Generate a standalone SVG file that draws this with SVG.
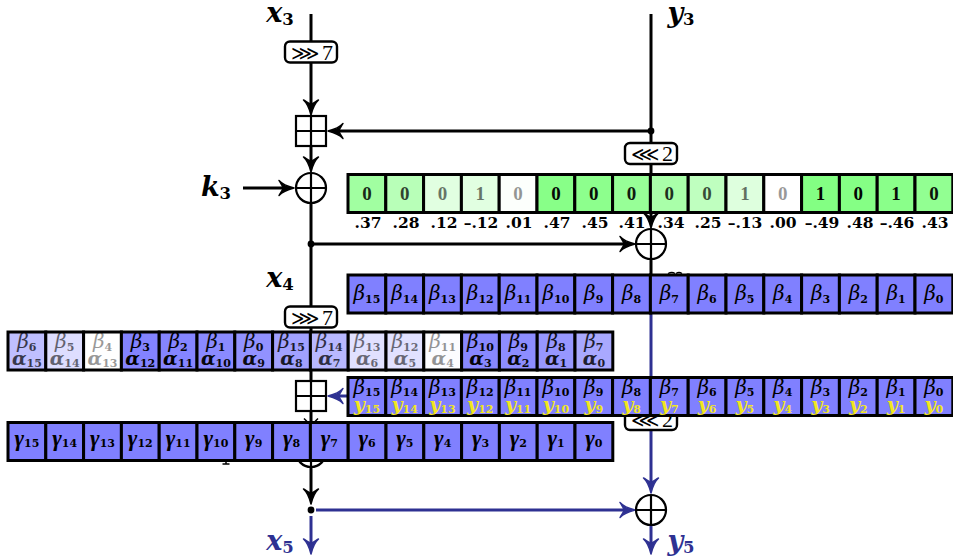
<svg xmlns="http://www.w3.org/2000/svg" width="953" height="556" viewBox="0 0 953 556">
<style>
text{font-family:"DejaVu Serif","Liberation Serif",serif;fill:#000;text-anchor:middle}
.c{stroke:#000;stroke-width:3;fill:#8080ff}
.k{fill:none;stroke:#000;stroke-width:3}
.u{fill:none;stroke:#2e3192;stroke-width:3}
.ka{marker-end:url(#ak)}
.ua{marker-end:url(#au)}
.op{fill:#fff;stroke:#000;stroke-width:2.200}
.th{fill:none;stroke:#000;stroke-width:2.200}
.rot{fill:#fff;stroke:#000;stroke-width:2.400}
.rt{font-family:"Liberation Serif",serif;font-size:22px;text-anchor:start}
.rs{font-family:"DejaVu Sans",sans-serif;font-size:20px}
.lab{font-size:27px;font-weight:bold;font-style:italic}
.ls{font-size:16.500px;font-style:normal}
.ub{fill:#2e3192}
.d{font-family:"Liberation Serif",serif;font-size:19px;font-weight:bold}
.n{font-size:15.500px;font-weight:bold}
.be{font-size:20px;font-style:italic}
.al{font-size:19px;font-style:italic;font-weight:bold}
.ga{font-size:23px;font-style:italic;font-weight:bold}
.ga tspan{font-family:"DejaVu Serif",serif}
.ga{font-family:"Liberation Serif",serif}
.s{font-size:11px;font-style:normal;font-weight:bold}
.yy{fill:#f2e61e}
.v37 text{opacity:.84}.v28 text{opacity:.74}.v12 text{opacity:.54}.v01 text{opacity:.41}.v47 text{opacity:.96}.v45 text{opacity:.94}.v41 text{opacity:.89}.v34 text{opacity:.81}.v25 text{opacity:.7}.v13 text{opacity:.56}.v00 text{opacity:.4}.v49 text{opacity:.99}.v48 text{opacity:.98}.v46 text{opacity:.95}.v43 text{opacity:.92}
.g .v37 rect{fill:#a1ffa1}.g .v28 rect{fill:#b8ffb8}.g .v12 rect{fill:#e1ffe1}.g .v01 rect{fill:#fcfffc}.g .v47 rect{fill:#88ff88}.g .v45 rect{fill:#8dff8d}.g .v41 rect{fill:#97ff97}.g .v34 rect{fill:#a9ffa9}.g .v25 rect{fill:#bfffbf}.g .v13 rect{fill:#deffde}.g .v00 rect{fill:#fff}.g .v49 rect{fill:#83ff83}.g .v48 rect{fill:#85ff85}.g .v46 rect{fill:#8aff8a}.g .v43 rect{fill:#92ff92}
.b .v37 rect{fill:#a1a1ff}.b .v28 rect{fill:#b8b8ff}.b .v12 rect{fill:#e1e1ff}.b .v01 rect{fill:#fcfcff}.b .v47 rect{fill:#8888ff}.b .v45 rect{fill:#8d8dff}.b .v41 rect{fill:#9797ff}.b .v34 rect{fill:#a9a9ff}.b .v25 rect{fill:#bfbfff}.b .v13 rect{fill:#dedeff}.b .v00 rect{fill:#fff}.b .v49 rect{fill:#8383ff}.b .v48 rect{fill:#8585ff}.b .v46 rect{fill:#8a8aff}.b .v43 rect{fill:#9292ff}
</style>
<defs>
<marker id="ak" markerUnits="userSpaceOnUse" markerWidth="24" markerHeight="24" viewBox="-12 -12 24 24" refX="0" refY="0" orient="auto"><path d="M-9,-7.500C-5,-3 0,-1.500 6,0C0,1.500 -5,3 -9,7.500C-7,4 -5,2 -5,0C-5,-2 -7,-4 -9,-7.500Z" fill="#000" stroke="#000" stroke-width="1.500" stroke-linejoin="round"/></marker>
<marker id="au" markerUnits="userSpaceOnUse" markerWidth="24" markerHeight="24" viewBox="-12 -12 24 24" refX="0" refY="0" orient="auto"><path d="M-9,-7.500C-5,-3 0,-1.500 6,0C0,1.500 -5,3 -9,7.500C-7,4 -5,2 -5,0C-5,-2 -7,-4 -9,-7.500Z" fill="#2e3192" stroke="#2e3192" stroke-width="1.500" stroke-linejoin="round"/></marker>
</defs>
<g id="connectors">
<path class="k ka" d="M311,14V109"/>
<path class="k ka" d="M311,146V166"/>
<path class="k ka" d="M243,188H288"/>
<path class="k" d="M311,203V306"/>
<path class="k ka" d="M311,244H629"/>
<path class="k" d="M311,328V381"/>
<path class="k ka" d="M651,14V131H334"/>
<path class="k ka" d="M651,131V222"/>
<path class="k" d="M651,259V276"/>
<path class="u ua" d="M651,312V487"/>
<path class="u ua" d="M349,396H334"/>
<path class="k" d="M311,411V437"/>
<path class="k ka" d="M311,467V498"/>
<path class="u ua" d="M316,510H629"/>
<path class="u ua" d="M311,516V548"/>
<path class="u ua" d="M651,525V548"/>
<circle cx="311" cy="244" r="3.400" fill="#000"/>
<circle cx="651" cy="131" r="3.400" fill="#000"/>
<circle cx="311" cy="510" r="3.400" fill="#000"/>
</g>
<g id="add1"><rect class="op" x="296" y="116" width="30" height="30"/><path class="th" d="M311,116V146M296,131H326"/></g>
<g id="xor1"><circle class="op" cx="311" cy="188" r="15"/><path class="th" d="M311,173V203M296,188H326"/></g>
<g id="xor2"><circle class="op" cx="651" cy="244" r="15"/><path class="th" d="M651,229V259M636,244H666"/></g>
<g id="add2"><rect class="op" x="296" y="381" width="30" height="30"/><path class="th" d="M311,381V411M296,396H326"/></g>
<g id="xor3"><circle class="op" cx="311" cy="452" r="15"/><path class="th" d="M311,437V467M296,452H326"/></g>
<g id="xor4"><circle class="op" cx="651" cy="510" r="15"/><path class="th" d="M651,495V525M636,510H666"/></g>
<g id="rot1"><rect class="rot" x="285" y="41.500" width="52" height="21" rx="5"/><text class="rt" x="291" y="59.500"><tspan class="rs">⋙</tspan><tspan x="322">7</tspan></text></g>
<g id="rot2"><rect class="rot" x="625" y="143" width="52" height="21" rx="5"/><text class="rt" x="631" y="161"><tspan class="rs">⋘</tspan><tspan x="662">2</tspan></text></g>
<g id="rot3"><rect class="rot" x="285" y="306.500" width="52" height="21" rx="5"/><text class="rt" x="291" y="324.500"><tspan class="rs">⋙</tspan><tspan x="322">7</tspan></text></g>
<g id="rot4"><rect class="rot" x="625" y="409" width="52" height="21" rx="5"/><text class="rt" x="631" y="427"><tspan class="rs">⋘</tspan><tspan x="662">2</tspan></text></g>
<g id="labels">
<text class="lab" x="280" y="22">x<tspan class="ls" dy="3">3</tspan></text>
<text class="lab" x="681" y="22">y<tspan class="ls" dy="3">3</tspan></text>
<text class="lab" x="216" y="196">k<tspan class="ls" dy="3">3</tspan></text>
<text class="lab" x="280" y="287">x<tspan class="ls" dy="3">4</tspan></text>
<text class="lab ub" x="280" y="550">x<tspan class="ls" dy="3">5</tspan></text>
<text class="lab ub" x="681" y="550">y<tspan class="ls" dy="3">5</tspan></text>
<path d="M668,273.500q4,-2 7,0M676,273.500q3,-2 6,0" fill="none" stroke="#000" stroke-width="1.300"/>
<path d="M226,460V464M222.500,464H229.500" fill="none" stroke="#000" stroke-width="1.500"/>
<path d="M304,418.500l3,3M318,418.500l-3,3" fill="none" stroke="#000" stroke-width="1.500"/>
</g>
<g id="row-key" class="g">
<g class="v37" transform="translate(348,174.500)"><rect class="c" width="37.8" height="38"/><text class="d" x="18.900" y="25">0</text></g>
<g class="v28" transform="translate(385.800,174.500)"><rect class="c" width="37.8" height="38"/><text class="d" x="18.900" y="25">0</text></g>
<g class="v12" transform="translate(423.600,174.500)"><rect class="c" width="37.8" height="38"/><text class="d" x="18.900" y="25">0</text></g>
<g class="v12" transform="translate(461.400,174.500)"><rect class="c" width="37.8" height="38"/><text class="d" x="18.900" y="25">1</text></g>
<g class="v01" transform="translate(499.200,174.500)"><rect class="c" width="37.8" height="38"/><text class="d" x="18.900" y="25">0</text></g>
<g class="v47" transform="translate(537,174.500)"><rect class="c" width="37.8" height="38"/><text class="d" x="18.900" y="25">0</text></g>
<g class="v45" transform="translate(574.800,174.500)"><rect class="c" width="37.8" height="38"/><text class="d" x="18.900" y="25">0</text></g>
<g class="v41" transform="translate(612.600,174.500)"><rect class="c" width="37.8" height="38"/><text class="d" x="18.900" y="25">0</text></g>
<g class="v34" transform="translate(650.400,174.500)"><rect class="c" width="37.8" height="38"/><text class="d" x="18.900" y="25">0</text></g>
<g class="v25" transform="translate(688.200,174.500)"><rect class="c" width="37.8" height="38"/><text class="d" x="18.900" y="25">0</text></g>
<g class="v13" transform="translate(726,174.500)"><rect class="c" width="37.8" height="38"/><text class="d" x="18.900" y="25">1</text></g>
<g class="v00" transform="translate(763.800,174.500)"><rect class="c" width="37.8" height="38"/><text class="d" x="18.900" y="25">0</text></g>
<g class="v49" transform="translate(801.600,174.500)"><rect class="c" width="37.8" height="38"/><text class="d" x="18.900" y="25">1</text></g>
<g class="v48" transform="translate(839.400,174.500)"><rect class="c" width="37.8" height="38"/><text class="d" x="18.900" y="25">0</text></g>
<g class="v46" transform="translate(877.200,174.500)"><rect class="c" width="37.8" height="38"/><text class="d" x="18.900" y="25">1</text></g>
<g class="v43" transform="translate(915,174.500)"><rect class="c" width="37.8" height="38"/><text class="d" x="18.900" y="25">0</text></g>
</g>
<g id="row-corr">
<text class="n" x="368" y="228">.37</text><text class="n" x="406" y="228">.28</text><text class="n" x="444" y="228">.12</text><text class="n" x="481" y="228">–.12</text><text class="n" x="519" y="228">.01</text><text class="n" x="557" y="228">.47</text><text class="n" x="595" y="228">.45</text><text class="n" x="632" y="228">.41</text><text class="n" x="671" y="228">.34</text><text class="n" x="708" y="228">.25</text><text class="n" x="745" y="228">–.13</text><text class="n" x="783" y="228">.00</text><text class="n" x="822" y="228">–.49</text><text class="n" x="860" y="228">.48</text><text class="n" x="897" y="228">–.46</text><text class="n" x="935" y="228">.43</text>
</g>
<g id="row-beta">
<g transform="translate(348,275)"><rect class="c" width="37.8" height="38"/><text class="be" x="18.900" y="25">β<tspan class="s" dy="2.500">15</tspan></text></g>
<g transform="translate(385.800,275)"><rect class="c" width="37.8" height="38"/><text class="be" x="18.900" y="25">β<tspan class="s" dy="2.500">14</tspan></text></g>
<g transform="translate(423.600,275)"><rect class="c" width="37.8" height="38"/><text class="be" x="18.900" y="25">β<tspan class="s" dy="2.500">13</tspan></text></g>
<g transform="translate(461.400,275)"><rect class="c" width="37.8" height="38"/><text class="be" x="18.900" y="25">β<tspan class="s" dy="2.500">12</tspan></text></g>
<g transform="translate(499.200,275)"><rect class="c" width="37.8" height="38"/><text class="be" x="18.900" y="25">β<tspan class="s" dy="2.500">11</tspan></text></g>
<g transform="translate(537,275)"><rect class="c" width="37.8" height="38"/><text class="be" x="18.900" y="25">β<tspan class="s" dy="2.500">10</tspan></text></g>
<g transform="translate(574.800,275)"><rect class="c" width="37.8" height="38"/><text class="be" x="18.900" y="25">β<tspan class="s" dy="2.500">9</tspan></text></g>
<g transform="translate(612.600,275)"><rect class="c" width="37.8" height="38"/><text class="be" x="18.900" y="25">β<tspan class="s" dy="2.500">8</tspan></text></g>
<g transform="translate(650.400,275)"><rect class="c" width="37.8" height="38"/><text class="be" x="18.900" y="25">β<tspan class="s" dy="2.500">7</tspan></text></g>
<g transform="translate(688.200,275)"><rect class="c" width="37.8" height="38"/><text class="be" x="18.900" y="25">β<tspan class="s" dy="2.500">6</tspan></text></g>
<g transform="translate(726,275)"><rect class="c" width="37.8" height="38"/><text class="be" x="18.900" y="25">β<tspan class="s" dy="2.500">5</tspan></text></g>
<g transform="translate(763.800,275)"><rect class="c" width="37.8" height="38"/><text class="be" x="18.900" y="25">β<tspan class="s" dy="2.500">4</tspan></text></g>
<g transform="translate(801.600,275)"><rect class="c" width="37.8" height="38"/><text class="be" x="18.900" y="25">β<tspan class="s" dy="2.500">3</tspan></text></g>
<g transform="translate(839.400,275)"><rect class="c" width="37.8" height="38"/><text class="be" x="18.900" y="25">β<tspan class="s" dy="2.500">2</tspan></text></g>
<g transform="translate(877.200,275)"><rect class="c" width="37.8" height="38"/><text class="be" x="18.900" y="25">β<tspan class="s" dy="2.500">1</tspan></text></g>
<g transform="translate(915,275)"><rect class="c" width="37.8" height="38"/><text class="be" x="18.900" y="25">β<tspan class="s" dy="2.500">0</tspan></text></g>
</g>
<g id="row-alpha" class="b">
<g class="v25" transform="translate(8,332)"><rect class="c" width="37.8" height="38"/><text class="be" x="18.900" y="16">β<tspan class="s" dy="2.500">6</tspan></text><text class="al" x="18.900" y="33">α<tspan class="s" dy="2">15</tspan></text></g>
<g class="v13" transform="translate(45.800,332)"><rect class="c" width="37.8" height="38"/><text class="be" x="18.900" y="16">β<tspan class="s" dy="2.500">5</tspan></text><text class="al" x="18.900" y="33">α<tspan class="s" dy="2">14</tspan></text></g>
<g class="v00" transform="translate(83.600,332)"><rect class="c" width="37.8" height="38"/><text class="be" x="18.900" y="16">β<tspan class="s" dy="2.500">4</tspan></text><text class="al" x="18.900" y="33">α<tspan class="s" dy="2">13</tspan></text></g>
<g class="v49" transform="translate(121.400,332)"><rect class="c" width="37.8" height="38"/><text class="be" x="18.900" y="16">β<tspan class="s" dy="2.500">3</tspan></text><text class="al" x="18.900" y="33">α<tspan class="s" dy="2">12</tspan></text></g>
<g class="v48" transform="translate(159.200,332)"><rect class="c" width="37.8" height="38"/><text class="be" x="18.900" y="16">β<tspan class="s" dy="2.500">2</tspan></text><text class="al" x="18.900" y="33">α<tspan class="s" dy="2">11</tspan></text></g>
<g class="v46" transform="translate(197,332)"><rect class="c" width="37.8" height="38"/><text class="be" x="18.900" y="16">β<tspan class="s" dy="2.500">1</tspan></text><text class="al" x="18.900" y="33">α<tspan class="s" dy="2">10</tspan></text></g>
<g class="v43" transform="translate(234.800,332)"><rect class="c" width="37.8" height="38"/><text class="be" x="18.900" y="16">β<tspan class="s" dy="2.500">0</tspan></text><text class="al" x="18.900" y="33">α<tspan class="s" dy="2">9</tspan></text></g>
<g class="v37" transform="translate(272.600,332)"><rect class="c" width="37.8" height="38"/><text class="be" x="18.900" y="16">β<tspan class="s" dy="2.500">15</tspan></text><text class="al" x="18.900" y="33">α<tspan class="s" dy="2">8</tspan></text></g>
<g class="v28" transform="translate(310.400,332)"><rect class="c" width="37.8" height="38"/><text class="be" x="18.900" y="16">β<tspan class="s" dy="2.500">14</tspan></text><text class="al" x="18.900" y="33">α<tspan class="s" dy="2">7</tspan></text></g>
<g class="v12" transform="translate(348.200,332)"><rect class="c" width="37.8" height="38"/><text class="be" x="18.900" y="16">β<tspan class="s" dy="2.500">13</tspan></text><text class="al" x="18.900" y="33">α<tspan class="s" dy="2">6</tspan></text></g>
<g class="v12" transform="translate(386,332)"><rect class="c" width="37.8" height="38"/><text class="be" x="18.900" y="16">β<tspan class="s" dy="2.500">12</tspan></text><text class="al" x="18.900" y="33">α<tspan class="s" dy="2">5</tspan></text></g>
<g class="v01" transform="translate(423.800,332)"><rect class="c" width="37.8" height="38"/><text class="be" x="18.900" y="16">β<tspan class="s" dy="2.500">11</tspan></text><text class="al" x="18.900" y="33">α<tspan class="s" dy="2">4</tspan></text></g>
<g class="v47" transform="translate(461.600,332)"><rect class="c" width="37.8" height="38"/><text class="be" x="18.900" y="16">β<tspan class="s" dy="2.500">10</tspan></text><text class="al" x="18.900" y="33">α<tspan class="s" dy="2">3</tspan></text></g>
<g class="v45" transform="translate(499.400,332)"><rect class="c" width="37.8" height="38"/><text class="be" x="18.900" y="16">β<tspan class="s" dy="2.500">9</tspan></text><text class="al" x="18.900" y="33">α<tspan class="s" dy="2">2</tspan></text></g>
<g class="v41" transform="translate(537.200,332)"><rect class="c" width="37.8" height="38"/><text class="be" x="18.900" y="16">β<tspan class="s" dy="2.500">8</tspan></text><text class="al" x="18.900" y="33">α<tspan class="s" dy="2">1</tspan></text></g>
<g class="v34" transform="translate(575,332)"><rect class="c" width="37.8" height="38"/><text class="be" x="18.900" y="16">β<tspan class="s" dy="2.500">7</tspan></text><text class="al" x="18.900" y="33">α<tspan class="s" dy="2">0</tspan></text></g>
</g>
<g id="row-y">
<g transform="translate(348,377.500)"><rect class="c" width="37.8" height="38"/><text class="be" x="18.900" y="16">β<tspan class="s" dy="2.500">15</tspan></text><text class="al yy" x="18.900" y="33">y<tspan class="s" dy="2">15</tspan></text></g>
<g transform="translate(385.800,377.500)"><rect class="c" width="37.8" height="38"/><text class="be" x="18.900" y="16">β<tspan class="s" dy="2.500">14</tspan></text><text class="al yy" x="18.900" y="33">y<tspan class="s" dy="2">14</tspan></text></g>
<g transform="translate(423.600,377.500)"><rect class="c" width="37.8" height="38"/><text class="be" x="18.900" y="16">β<tspan class="s" dy="2.500">13</tspan></text><text class="al yy" x="18.900" y="33">y<tspan class="s" dy="2">13</tspan></text></g>
<g transform="translate(461.400,377.500)"><rect class="c" width="37.8" height="38"/><text class="be" x="18.900" y="16">β<tspan class="s" dy="2.500">12</tspan></text><text class="al yy" x="18.900" y="33">y<tspan class="s" dy="2">12</tspan></text></g>
<g transform="translate(499.200,377.500)"><rect class="c" width="37.8" height="38"/><text class="be" x="18.900" y="16">β<tspan class="s" dy="2.500">11</tspan></text><text class="al yy" x="18.900" y="33">y<tspan class="s" dy="2">11</tspan></text></g>
<g transform="translate(537,377.500)"><rect class="c" width="37.8" height="38"/><text class="be" x="18.900" y="16">β<tspan class="s" dy="2.500">10</tspan></text><text class="al yy" x="18.900" y="33">y<tspan class="s" dy="2">10</tspan></text></g>
<g transform="translate(574.800,377.500)"><rect class="c" width="37.8" height="38"/><text class="be" x="18.900" y="16">β<tspan class="s" dy="2.500">9</tspan></text><text class="al yy" x="18.900" y="33">y<tspan class="s" dy="2">9</tspan></text></g>
<g transform="translate(612.600,377.500)"><rect class="c" width="37.8" height="38"/><text class="be" x="18.900" y="16">β<tspan class="s" dy="2.500">8</tspan></text><text class="al yy" x="18.900" y="33">y<tspan class="s" dy="2">8</tspan></text></g>
<g transform="translate(650.400,377.500)"><rect class="c" width="37.8" height="38"/><text class="be" x="18.900" y="16">β<tspan class="s" dy="2.500">7</tspan></text><text class="al yy" x="18.900" y="33">y<tspan class="s" dy="2">7</tspan></text></g>
<g transform="translate(688.200,377.500)"><rect class="c" width="37.8" height="38"/><text class="be" x="18.900" y="16">β<tspan class="s" dy="2.500">6</tspan></text><text class="al yy" x="18.900" y="33">y<tspan class="s" dy="2">6</tspan></text></g>
<g transform="translate(726,377.500)"><rect class="c" width="37.8" height="38"/><text class="be" x="18.900" y="16">β<tspan class="s" dy="2.500">5</tspan></text><text class="al yy" x="18.900" y="33">y<tspan class="s" dy="2">5</tspan></text></g>
<g transform="translate(763.800,377.500)"><rect class="c" width="37.8" height="38"/><text class="be" x="18.900" y="16">β<tspan class="s" dy="2.500">4</tspan></text><text class="al yy" x="18.900" y="33">y<tspan class="s" dy="2">4</tspan></text></g>
<g transform="translate(801.600,377.500)"><rect class="c" width="37.8" height="38"/><text class="be" x="18.900" y="16">β<tspan class="s" dy="2.500">3</tspan></text><text class="al yy" x="18.900" y="33">y<tspan class="s" dy="2">3</tspan></text></g>
<g transform="translate(839.400,377.500)"><rect class="c" width="37.8" height="38"/><text class="be" x="18.900" y="16">β<tspan class="s" dy="2.500">2</tspan></text><text class="al yy" x="18.900" y="33">y<tspan class="s" dy="2">2</tspan></text></g>
<g transform="translate(877.200,377.500)"><rect class="c" width="37.8" height="38"/><text class="be" x="18.900" y="16">β<tspan class="s" dy="2.500">1</tspan></text><text class="al yy" x="18.900" y="33">y<tspan class="s" dy="2">1</tspan></text></g>
<g transform="translate(915,377.500)"><rect class="c" width="37.8" height="38"/><text class="be" x="18.900" y="16">β<tspan class="s" dy="2.500">0</tspan></text><text class="al yy" x="18.900" y="33">y<tspan class="s" dy="2">0</tspan></text></g>
</g>
<g id="row-gamma">
<g transform="translate(8,422.500)"><rect class="c" width="37.8" height="38"/><text class="ga" x="18.900" y="23">γ<tspan class="s" dy="1.500">15</tspan></text></g>
<g transform="translate(45.800,422.500)"><rect class="c" width="37.8" height="38"/><text class="ga" x="18.900" y="23">γ<tspan class="s" dy="1.500">14</tspan></text></g>
<g transform="translate(83.600,422.500)"><rect class="c" width="37.8" height="38"/><text class="ga" x="18.900" y="23">γ<tspan class="s" dy="1.500">13</tspan></text></g>
<g transform="translate(121.400,422.500)"><rect class="c" width="37.8" height="38"/><text class="ga" x="18.900" y="23">γ<tspan class="s" dy="1.500">12</tspan></text></g>
<g transform="translate(159.200,422.500)"><rect class="c" width="37.8" height="38"/><text class="ga" x="18.900" y="23">γ<tspan class="s" dy="1.500">11</tspan></text></g>
<g transform="translate(197,422.500)"><rect class="c" width="37.8" height="38"/><text class="ga" x="18.900" y="23">γ<tspan class="s" dy="1.500">10</tspan></text></g>
<g transform="translate(234.800,422.500)"><rect class="c" width="37.8" height="38"/><text class="ga" x="18.900" y="23">γ<tspan class="s" dy="1.500">9</tspan></text></g>
<g transform="translate(272.600,422.500)"><rect class="c" width="37.8" height="38"/><text class="ga" x="18.900" y="23">γ<tspan class="s" dy="1.500">8</tspan></text></g>
<g transform="translate(310.400,422.500)"><rect class="c" width="37.8" height="38"/><text class="ga" x="18.900" y="23">γ<tspan class="s" dy="1.500">7</tspan></text></g>
<g transform="translate(348.200,422.500)"><rect class="c" width="37.8" height="38"/><text class="ga" x="18.900" y="23">γ<tspan class="s" dy="1.500">6</tspan></text></g>
<g transform="translate(386,422.500)"><rect class="c" width="37.8" height="38"/><text class="ga" x="18.900" y="23">γ<tspan class="s" dy="1.500">5</tspan></text></g>
<g transform="translate(423.800,422.500)"><rect class="c" width="37.8" height="38"/><text class="ga" x="18.900" y="23">γ<tspan class="s" dy="1.500">4</tspan></text></g>
<g transform="translate(461.600,422.500)"><rect class="c" width="37.8" height="38"/><text class="ga" x="18.900" y="23">γ<tspan class="s" dy="1.500">3</tspan></text></g>
<g transform="translate(499.400,422.500)"><rect class="c" width="37.8" height="38"/><text class="ga" x="18.900" y="23">γ<tspan class="s" dy="1.500">2</tspan></text></g>
<g transform="translate(537.200,422.500)"><rect class="c" width="37.8" height="38"/><text class="ga" x="18.900" y="23">γ<tspan class="s" dy="1.500">1</tspan></text></g>
<g transform="translate(575,422.500)"><rect class="c" width="37.8" height="38"/><text class="ga" x="18.900" y="23">γ<tspan class="s" dy="1.500">0</tspan></text></g>
</g>
</svg>
